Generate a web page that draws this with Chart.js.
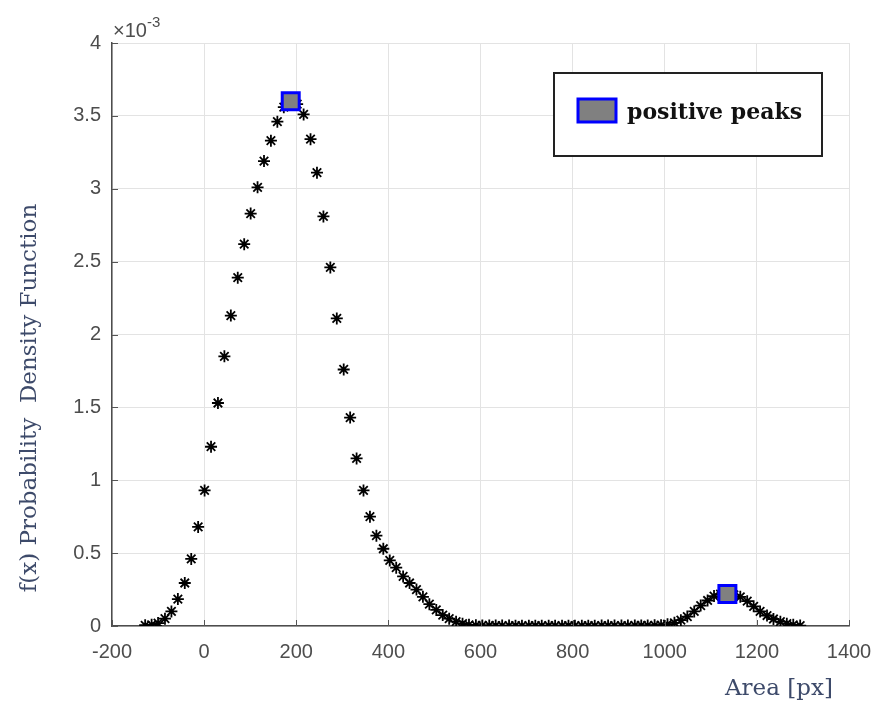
<!DOCTYPE html>
<html>
<head>
<meta charset="utf-8">
<script src="https://cdn.jsdelivr.net/npm/chart.js@4"></script>
<style>
  html, body { margin: 0; padding: 0; background: #fff; }
  #wrap { width: 879px; height: 709px; }
</style>
</head>
<body>
<div id="wrap"><canvas id="pdfChart" width="879" height="709"></canvas></div>
<script>
// Area [px] sample positions
const areaX = [
  -128, -114, -100, -85, -71, -57, -42, -28, -13, 1,
  15, 30, 44, 58, 73, 87, 101, 116, 130, 145,
  159, 173, 188, 202, 216, 231, 245, 259, 274, 288,
  303, 317, 331, 346, 360, 374, 389, 403, 417, 432,
  446, 461, 475, 489, 504, 518, 532, 547, 561, 575,
  590, 604, 619, 633, 647, 662, 676, 690, 705, 719,
  733, 748, 762, 777, 791, 805, 820, 834, 848, 863,
  877, 891, 906, 920, 935, 949, 963, 978, 992, 1006,
  1021, 1035, 1049, 1064, 1078, 1093, 1107, 1121, 1136, 1150,
  1164, 1179, 1193, 1207, 1222, 1236, 1251, 1265, 1279, 1294
];
// f(x), in units of 1e-3
const pdfE3 = [
  0.005, 0.008, 0.02, 0.05, 0.10, 0.185, 0.295, 0.46, 0.68, 0.93,
  1.23, 1.53, 1.85, 2.13, 2.39, 2.62, 2.83, 3.01, 3.19, 3.33,
  3.46, 3.56, 3.60, 3.58, 3.51, 3.34, 3.11, 2.81, 2.46, 2.11,
  1.76, 1.43, 1.15, 0.93, 0.75, 0.62, 0.53, 0.45, 0.40, 0.34,
  0.295, 0.25, 0.20, 0.15, 0.11, 0.075, 0.05, 0.03, 0.016, 0.008,
  0.005, 0.004, 0.004, 0.003, 0.003, 0.003, 0.002, 0.002, 0.002, 0.002,
  0.002, 0.002, 0.002, 0.002, 0.002, 0.002, 0.002, 0.002, 0.002, 0.003,
  0.003, 0.003, 0.003, 0.003, 0.004, 0.004, 0.004, 0.005, 0.006, 0.012,
  0.022, 0.04, 0.065, 0.10, 0.14, 0.175, 0.205, 0.218, 0.22, 0.214,
  0.20, 0.17, 0.135, 0.10, 0.072, 0.048, 0.03, 0.016, 0.008, 0.003
];
// positive peaks
const peakX = [188, 1136];
const peakE3 = [3.60, 0.22];

const xTicks = [-200, 0, 200, 400, 600, 800, 1000, 1200, 1400];
const yTicks = [0, 0.5, 1, 1.5, 2, 2.5, 3, 3.5, 4];

const tickColor = '#4d4d4d';
const titleColor = '#3d4a6a';
const sansFont = '"Liberation Sans", Arial, sans-serif';

const decorations = {
  id: 'decorations',
  afterDraw(chart) {
    const ctx = chart.ctx;
    const a = chart.chartArea;
    const xs = chart.scales.x, ys = chart.scales.y;
    ctx.save();

    // inward tick marks
    ctx.strokeStyle = '#555';
    ctx.lineWidth = 1;
    yTicks.forEach(v => {
      const y = Math.round(ys.getPixelForValue(v)) + 0.5;
      ctx.beginPath(); ctx.moveTo(a.left, y); ctx.lineTo(a.left + 6, y); ctx.stroke();
    });
    xTicks.forEach(v => {
      const x = Math.round(xs.getPixelForValue(v)) + 0.5;
      ctx.beginPath(); ctx.moveTo(x, a.bottom); ctx.lineTo(x, a.bottom - 6); ctx.stroke();
    });

    // exponent
    ctx.fillStyle = tickColor;
    ctx.textBaseline = 'alphabetic';
    ctx.textAlign = 'left';
    ctx.font = '20px ' + sansFont;
    ctx.fillText('\u00d710', a.left + 1, 37);
    const w = ctx.measureText('\u00d710').width;
    ctx.font = '15px ' + sansFont;
    ctx.fillText('-3', a.left + 1 + w, 27);

    // axis titles
    ctx.fillStyle = titleColor;
    ctx.font = '23px "DejaVu Serif", serif';
    ctx.fillText('Area [px]', 725, 695);
    ctx.save();
    ctx.translate(36, 398);
    ctx.rotate(-Math.PI / 2);
    ctx.textAlign = 'center';
    ctx.fillText('f(x) Probability  Density Function', 0, 0);
    ctx.restore();

    // legend
    ctx.fillStyle = '#fff';
    ctx.fillRect(554, 73, 268, 83);
    ctx.strokeStyle = '#222';
    ctx.lineWidth = 2;
    ctx.strokeRect(554, 73, 268, 83);
    ctx.fillStyle = '#808080';
    ctx.fillRect(578, 99, 38, 23);
    ctx.strokeStyle = '#0000ff';
    ctx.lineWidth = 3;
    ctx.strokeRect(578, 99, 38, 23);
    ctx.fillStyle = '#111';
    ctx.font = 'bold 22px "DejaVu Serif", serif';
    ctx.fillText('positive peaks', 627, 119);

    ctx.restore();
  }
};

new Chart(document.getElementById('pdfChart'), {
  type: 'scatter',
  data: {
    datasets: [
      {
        label: 'f(x)',
        data: areaX.map((x, i) => ({ x: x, y: pdfE3[i] })),
        pointStyle: 'star',
        pointRadius: 6,
        borderColor: '#000',
        backgroundColor: '#000',
        pointBorderWidth: 1.8,
        order: 2
      },
      {
        label: 'positive peaks',
        data: peakX.map((x, i) => ({ x: x, y: peakE3[i] })),
        pointStyle: 'rect',
        pointRadius: 12,
        borderColor: '#0000ff',
        backgroundColor: '#808080',
        pointBorderWidth: 3,
        order: 1
      }
    ]
  },
  options: {
    responsive: false,
    animation: false,
    layout: { padding: { left: 0, right: 30, top: 43, bottom: 0 } },
    plugins: { legend: { display: false }, tooltip: { enabled: false } },
    scales: {
      x: {
        type: 'linear',
        min: -200, max: 1400,
        afterFit: s => { s.height = 83; s.paddingLeft = 0; s.paddingRight = 0; },
        afterBuildTicks: s => { s.ticks = xTicks.map(v => ({ value: v })); },
        grid: { color: '#e3e3e3', lineWidth: 1, drawTicks: false },
        border: { color: '#4d4d4d', width: 1.5 },
        ticks: {
          color: tickColor, padding: 14, font: { size: 20, family: sansFont },
          callback: v => String(v)
        }
      },
      y: {
        min: 0, max: 4,
        afterFit: s => { s.width = 112; s.paddingTop = 0; s.paddingBottom = 0; },
        afterBuildTicks: s => { s.ticks = yTicks.map(v => ({ value: v })); },
        grid: { color: '#e3e3e3', lineWidth: 1, drawTicks: false },
        border: { color: '#4d4d4d', width: 1.5 },
        ticks: {
          color: tickColor, padding: 11, font: { size: 20, family: sansFont },
          callback: v => String(v)
        }
      }
    }
  },
  plugins: [decorations]
});
</script>
</body>
</html>
